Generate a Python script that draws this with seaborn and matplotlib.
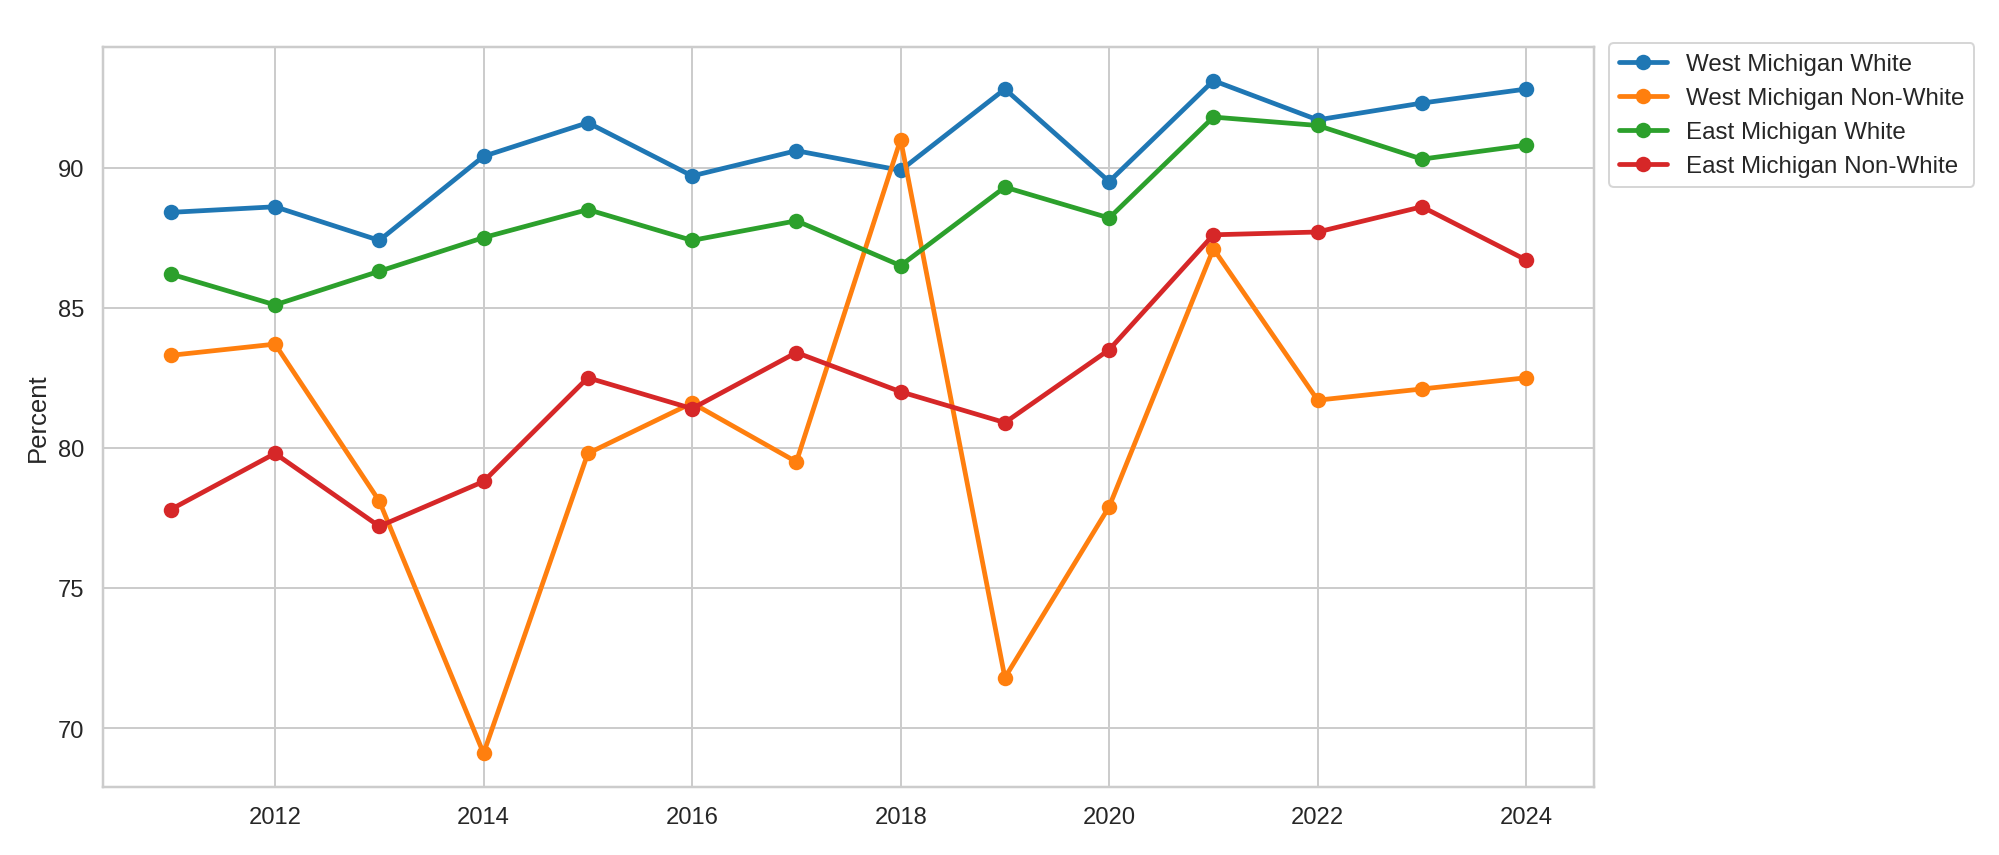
import matplotlib
matplotlib.use("Agg")
import matplotlib.pyplot as plt
import seaborn as sns
import pandas as pd

years = list(range(2011, 2025))
west_white = [88.4, 88.6, 87.4, 90.4, 91.6, 89.7, 90.6, 89.9, 92.8, 89.5, 93.1, 91.7, 92.3, 92.8]
west_nonwhite = [83.3, 83.7, 78.1, 69.1, 79.8, 81.6, 79.5, 91.0, 71.8, 77.9, 87.1, 81.7, 82.1, 82.5]
east_white = [86.2, 85.1, 86.3, 87.5, 88.5, 87.4, 88.1, 86.5, 89.3, 88.2, 91.8, 91.5, 90.3, 90.8]
east_nonwhite = [77.8, 79.8, 77.2, 78.8, 82.5, 81.4, 83.4, 82.0, 80.9, 83.5, 87.6, 87.7, 88.6, 86.7]
series_names = ["West Michigan White", "West Michigan Non-White",
                "East Michigan White", "East Michigan Non-White"]

rows = []
for name, vals in zip(series_names, [west_white, west_nonwhite, east_white, east_nonwhite]):
    for y, v in zip(years, vals):
        rows.append({"Year": y, "Percent": v, "Group": name})
df = pd.DataFrame(rows)

sns.set_theme(style="whitegrid")
plt.rcParams['font.family'] = ['Liberation Sans', 'DejaVu Sans']

fig, ax = plt.subplots(figsize=(14, 5.992), dpi=142.857)
fig.subplots_adjust(left=103/2000, right=1594/2000, top=1-48/856, bottom=1-788/856)

sns.lineplot(data=df, x="Year", y="Percent", hue="Group", hue_order=series_names,
             palette=["#1f77b4", "#ff7f0e", "#2ca02c", "#d62728"],
             marker="o", markersize=7.8, markeredgewidth=0, linewidth=2.4, ax=ax)

ax.set_xlabel("")
ax.set_ylabel("Percent", fontsize=13)
ax.tick_params(labelsize=12)
ax.legend(loc="upper left", bbox_to_anchor=(1.01, 1.005), borderaxespad=0,
          title=None, fontsize=12.2)

fig.savefig("out.png", dpi=142.857)
